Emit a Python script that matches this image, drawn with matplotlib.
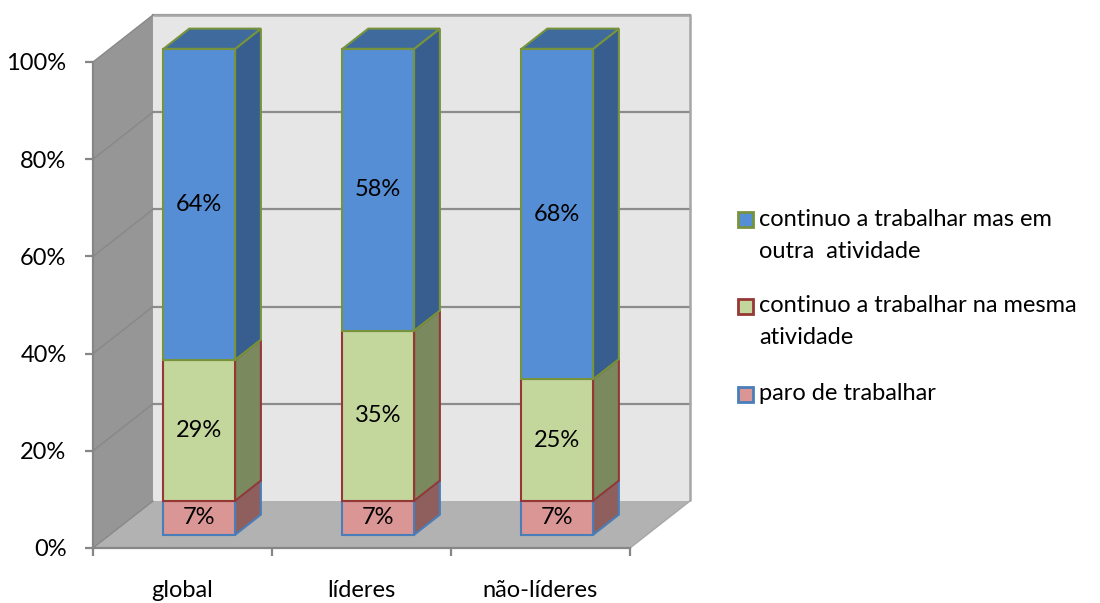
import matplotlib
matplotlib.use("Agg")
import matplotlib.pyplot as plt
from matplotlib.patches import Polygon, Rectangle

# ---- data -------------------------------------------------------------
categories = ["global", "líderes", "não-líderes"]
paro = [7, 7, 7]            # paro de trabalhar
mesma = [29, 35, 25]        # continuo a trabalhar na mesma atividade
outra = [64, 58, 68]        # continuo a trabalhar mas em outra atividade
y_ticks = [0, 20, 40, 60, 80, 100]
legend_labels = [
    "continuo a trabalhar mas em\noutra  atividade",
    "continuo a trabalhar na mesma\natividade",
    "paro de trabalhar",
]

# ---- styling ----------------------------------------------------------
plt.rcParams["font.family"] = ["Lato", "DejaVu Sans"]
FS = 17
face = ["#D99694", "#C3D69B", "#558ED5"]
side = ["#8E5F5D", "#7B8A5E", "#375E8E"]
top_blue = "#3E6A9E"
edge = ["#4A7EBB", "#953735", "#77933C"]
AXIS_GREY = "#868686"

# 3-D box depth (in data units) and bar placement inside it
DX, DY = 0.335, 9.67
D0, D1 = 0.28, 0.71
WIDTH = 0.4

fig = plt.figure(figsize=(11, 6.03), dpi=100)
ax = fig.add_axes([0, 0, 1, 1])
ax.set_xlim(-0.5 - 93 / 179, -0.5 + 1007 / 179)
ax.set_ylim(-55 / 4.86, 548 / 4.86)
ax.set_facecolor("none")

n = len(categories)
x0, x1 = -0.5, n - 0.5
ymax = y_ticks[-1]

# walls and floor
floor = Polygon([(x0, 0), (x1, 0), (x1 + DX, DY), (x0 + DX, DY)],
                closed=True, facecolor="#B2B2B2", edgecolor="none", zorder=0.5)
left_wall = Polygon([(x0, 0), (x0, ymax), (x0 + DX, ymax + DY), (x0 + DX, DY)],
                    closed=True, facecolor="#969696", edgecolor="none", zorder=0.5)
back_wall = Polygon([(x0 + DX, DY), (x0 + DX, ymax + DY), (x1 + DX, ymax + DY), (x1 + DX, DY)],
                    closed=True, facecolor="#E6E6E6", edgecolor="none", zorder=0.5)
for p in (floor, left_wall, back_wall):
    ax.add_patch(p)
ax.plot([x0 + DX, x1 + DX, x1 + DX], [ymax + DY, ymax + DY, DY],
        color="#A6A6A6", lw=1.8, zorder=0.7, solid_capstyle="butt")
ax.plot([x1, x1 + DX], [0, DY], color="#A6A6A6", lw=1.0, zorder=0.7)

# gridlines on the back wall and left wall
for v in y_ticks[1:]:
    ax.plot([x0 + DX, x1 + DX], [v + DY, v + DY], color="#8C8C8C", lw=1.6, zorder=0.6)
for v in y_ticks:
    ax.plot([x0, x0 + DX], [v, v + DY], color="#888888", lw=1.0, zorder=0.6)

# stacked 3-D bars
series = [paro, mesma, outra]
bw_x, bw_y = (D1 - D0) * DX, (D1 - D0) * DY
for i in range(n):
    xc = i + D0 * DX
    xl, xr = xc - WIDTH / 2, xc + WIDTH / 2
    base = D0 * DY
    bottom = 0
    for s, vals in enumerate(series):
        v = vals[i]
        b, t = base + bottom, base + bottom + v
        ax.bar(xc, v, width=WIDTH, bottom=b, color=face[s], edgecolor=edge[s],
               linewidth=1.5, zorder=3)
        ax.add_patch(Polygon([(xr, b), (xr, t), (xr + bw_x, t + bw_y), (xr + bw_x, b + bw_y)],
                             closed=True, facecolor=side[s], edgecolor=edge[s],
                             linewidth=1.5, zorder=2.9))
        ax.text(xc, (b + t) / 2, f"{v}%", ha="center", va="center",
                fontsize=FS, color="black", zorder=5)
        bottom += v
    t = base + bottom
    ax.add_patch(Polygon([(xl, t), (xr, t), (xr + bw_x, t + bw_y), (xl + bw_x, t + bw_y)],
                         closed=True, facecolor=top_blue, edgecolor=edge[-1],
                         linewidth=1.5, zorder=2.9))

# axes
for sp in ("top", "right"):
    ax.spines[sp].set_visible(False)
ax.spines["left"].set_position(("data", x0))
ax.spines["left"].set_bounds(0, ymax)
ax.spines["bottom"].set_position(("data", 0))
ax.spines["bottom"].set_bounds(x0, x1)
for sp in ("left", "bottom"):
    ax.spines[sp].set_color(AXIS_GREY)
    ax.spines[sp].set_linewidth(1.6)
    ax.spines[sp].set_zorder(1)

ax.set_yticks(y_ticks, [f"{v}%" for v in y_ticks])
ax.tick_params(axis="y", length=6, width=1.6, color=AXIS_GREY, pad=13,
               labelsize=FS, labelcolor="black")
ax.set_xticks([k - 0.5 for k in range(n + 1)], [""] * (n + 1))
ax.tick_params(axis="x", which="major", length=6, width=1.6, color=AXIS_GREY)
ax.set_xticks(range(n), categories, minor=True)
ax.tick_params(axis="x", which="minor", length=0, pad=23, labelsize=FS,
               labelcolor="black")

# legend
W, H = 1100, 603
entry_y = [219, 306, 394]
leg_face = [face[2], face[1], face[0]]
leg_edge = [edge[2], edge[1], edge[0]]
for lab, yc, fc, ec in zip(legend_labels, entry_y, leg_face, leg_edge):
    fig.add_artist(Rectangle((738 / W, 1 - (yc + 7.5) / H), 15 / W, 15 / H,
                             transform=fig.transFigure, facecolor=fc,
                             edgecolor=ec, linewidth=2))
    for k, line in enumerate(lab.split("\n")):
        fig.text(759 / W, 1 - (yc + 32 * k) / H, line, ha="left", va="center",
                 fontsize=FS, color="black")

fig.savefig("out.png", dpi=100)
